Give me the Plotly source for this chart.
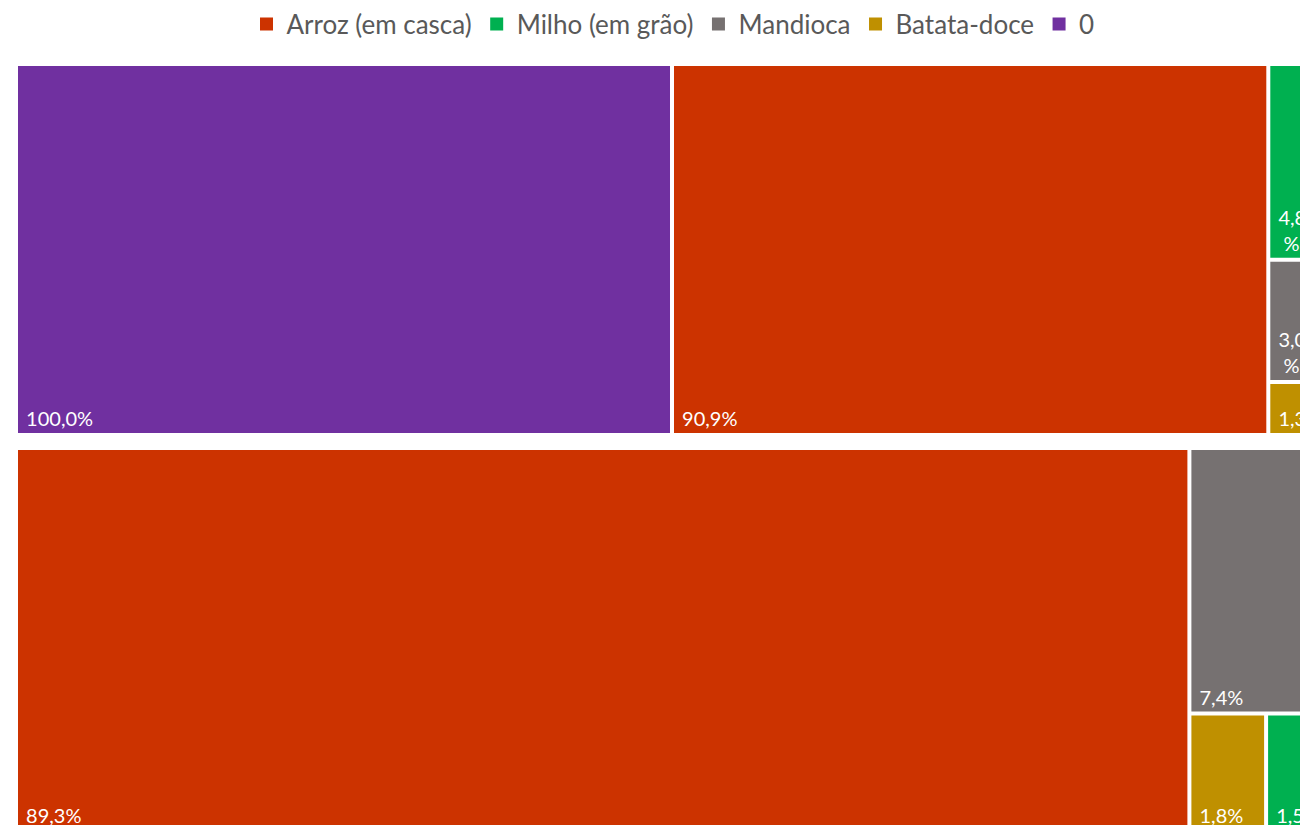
import plotly.graph_objects as go

# ---- data ----
culturas = ["Arroz (em casca)", "Milho (em grão)", "Mandioca", "Batata-doce", "0"]
cores = ["#CC3300", "#00B050", "#767171", "#BF9000", "#7030A0"]

# band 1: two groups side by side
g1_nome = "Grupo 1"
g1_culturas = ["0"]
g1_valores = [100.0]

g2_nome = "Grupo 2"
g2_culturas = ["Arroz (em casca)", "Milho (em grão)", "Mandioca", "Batata-doce"]
g2_valores = [90.9, 4.8, 3.0, 1.3]

# band 2
g3_nome = "Grupo 3"
g3_culturas = ["Arroz (em casca)", "Mandioca", "Batata-doce", "Milho (em grão)"]
g3_valores = [89.3, 7.4, 1.8, 1.5]

# labels that wrap onto two lines (narrow tiles)
rotulos_quebrados = [("Grupo 2", "Milho (em grão)"), ("Grupo 2", "Mandioca")]

cor_de = dict(zip(culturas, cores))

W, H = 1346, 840
FONT = "Lato"
NB = "\u00a0"


def build(grupos):
    ids, labels, parents, values, colors, tt, cd = [], [], [], [], [], [], []
    for nome, cs, vs in grupos:
        total = sum(vs)
        ids.append(nome); labels.append(nome); parents.append("")
        values.append(0); colors.append("white"); tt.append(""); cd.append(0)
        for c, v in zip(cs, vs):
            ids.append(nome + "/" + c); labels.append(c); parents.append(nome)
            values.append(v); colors.append(cor_de[c])
            cd.append(100 * v / total)
            if (nome, c) in rotulos_quebrados:
                tt.append(NB + "%{customdata:.1f}<br>" + NB + NB + "%")
            else:
                tt.append(NB + "%{percentParent:.1%}")
    return ids, labels, parents, values, colors, tt, cd


def treemap(grupos, x0, x1, y0, y1):
    ids, labels, parents, values, colors, tt, cd = build(grupos)
    return go.Treemap(
        ids=ids, labels=labels, parents=parents, values=values,
        customdata=cd,
        branchvalues="remainder", sort=True,
        marker=dict(colors=colors, line=dict(width=0),
                    pad=dict(t=0, l=0, r=0, b=0)),
        tiling=dict(packing="squarify", pad=4),
        pathbar=dict(visible=False),
        texttemplate=tt,
        textposition="bottom left",
        textfont=dict(family=FONT, size=20, color="white"),
        hovertemplate="%{label}: %{percentParent:.1%}<extra></extra>",
        domain=dict(x=[x0 / W, x1 / W], y=[1 - y1 / H, 1 - y0 / H]),
    )


fig = go.Figure()
fig.add_trace(treemap([(g1_nome, g1_culturas, g1_valores),
                       (g2_nome, g2_culturas, g2_valores)], 18, 1326, 66, 433))
fig.add_trace(treemap([(g3_nome, g3_culturas, g3_valores)], 18, 1328, 450, 830))

# legend entries
for c, col in zip(culturas, cores):
    fig.add_trace(go.Scatter(x=[None], y=[None], mode="markers", name=c,
                             marker=dict(symbol="square", size=13, color=col),
                             showlegend=True, hoverinfo="skip"))

fig.update_layout(
    width=W, height=H, autosize=False,
    margin=dict(l=0, r=0, t=0, b=0),
    paper_bgcolor="white", plot_bgcolor="white",
    separators=",.",
    xaxis=dict(visible=False), yaxis=dict(visible=False),
    legend=dict(orientation="h", x=673 / W, xanchor="center",
                y=1 - 24 / H, yanchor="middle",
                font=dict(family=FONT, size=26, color="#595959"),
                itemclick=False, itemdoubleclick=False),
    font=dict(family=FONT),
)

fig.write_html("out.html", config={"displayModeBar": False},
               post_script="document.body.style.margin='0';document.body.style.overflow='hidden';document.documentElement.style.overflow='hidden';")
